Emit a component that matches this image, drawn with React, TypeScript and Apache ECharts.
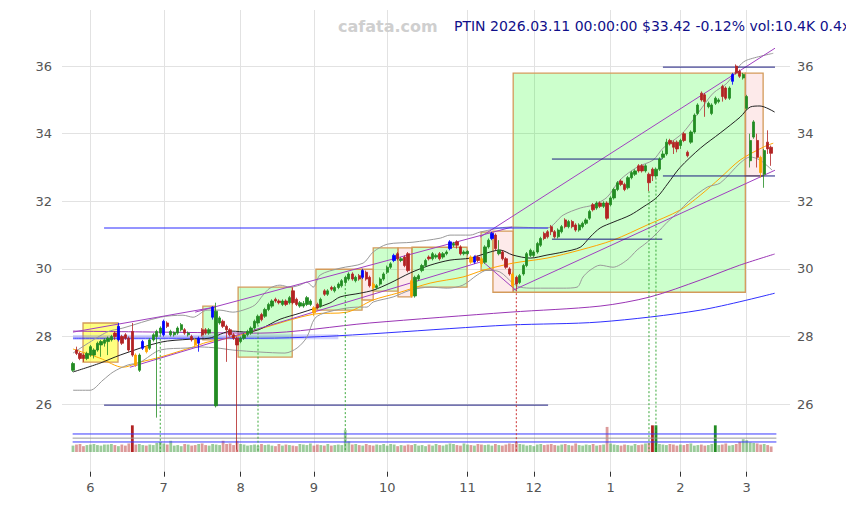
import React, { useEffect, useRef } from 'react';
import * as echarts from 'echarts';

// ---- candles (index 0 = first trading day shown) ----
const opens = [
  27.0, 27.6, 27.5, 27.45, 27.35, 27.45, 27.45, 27.6, 27.75, 27.8,
  27.85, 27.9, 28.1, 27.9, 28.0, 28.05, 27.95, 28.15, 27.45, 27.0,
  27.65, 27.7, 27.65, 27.9, 28.0, 28.1, 28.05, 28.4, 28.05, 28.05,
  28.1, 28.2, 28.2, 28.05, 28.0, 27.9, 27.8, 28.2, 28.2, 28.1,
  28.57, 25.95, 28.4, 28.45, 28.3, 28.2, 28.05, 27.95, 27.85, 27.95,
  28.05, 28.1, 28.25, 28.4, 28.65, 28.6, 28.8, 28.9, 29.1, 29.05,
  28.95, 29.05, 29.0, 29.35, 29.1, 28.9, 28.9, 28.95, 28.95, 28.85,
  28.95, 28.9, 29.35, 29.25, 29.45, 29.35, 29.45, 29.5, 29.6, 29.7,
  29.85, 29.65, 29.8, 29.75, 29.9, 29.75, 29.55, 29.45, 29.55, 29.7,
  29.9, 30.05, 30.25, 30.45, 30.25, 30.35, 30.45, 29.65, 29.2, 29.7,
  29.95, 30.1, 30.35, 30.3, 30.35, 30.45, 30.35, 30.45, 30.6, 30.7,
  30.8, 30.65, 30.45, 30.45, 30.35, 30.2, 30.35, 30.3, 30.2, 30.65,
  30.9, 31.0, 30.45, 30.5, 30.3, 30.0, 29.85, 29.75, 29.6, 29.85,
  30.1, 30.4, 30.4, 30.5, 30.7, 31.05, 31.1, 31.25, 31.1, 30.95,
  31.1, 31.45, 31.25, 31.4, 31.3, 31.15, 31.25, 31.35, 31.5, 31.9,
  31.8, 31.95, 31.85, 31.95, 31.9, 32.1, 32.35, 32.6, 32.5, 32.4,
  32.7, 32.8, 33.05, 33.05, 32.9, 32.8, 32.95, 32.75, 32.95, 33.3,
  33.4, 33.8, 33.75, 33.75, 33.65, 34.0, 33.45, 33.75, 34.05, 34.6,
  35.2, 35.15, 34.8, 34.6, 34.9, 34.95, 35.4, 35.35, 35.05, 35.55,
  36.0, 35.85, 35.65, 34.75, 33.2, 33.9, 33.8, 33.3, 32.8, 33.75,
  33.6,
];
const closes = [
  27.2, 27.5, 27.35, 27.35, 27.5, 27.7, 27.6, 27.8, 27.85, 27.9,
  27.95, 28.0, 28.0, 28.3, 27.8, 27.95, 27.6, 27.45, 27.15, 27.45,
  27.85, 27.55, 27.9, 28.05, 28.15, 28.25, 28.45, 28.3, 28.15, 28.12,
  28.25, 28.35, 28.1, 28.1, 27.9, 27.75, 27.95, 28.05, 28.1, 28.2,
  28.87, 28.75, 28.55, 28.3, 28.2, 28.05, 27.95, 27.75, 27.95, 28.05,
  28.15, 28.25, 28.45, 28.6, 28.5, 28.8, 28.95, 29.05, 29.05, 29.0,
  29.05, 28.95, 29.15, 29.0, 28.95, 29.0, 28.98, 29.15, 29.05, 28.7,
  28.85, 29.1, 29.25, 29.35, 29.4, 29.45, 29.55, 29.65, 29.75, 29.85,
  29.7, 29.75, 29.7, 29.95, 29.7, 29.5, 29.45, 29.5, 29.7, 29.85,
  30.05, 30.15, 30.4, 30.3, 30.3, 30.1, 29.95, 29.2, 29.75, 29.8,
  30.1, 30.25, 30.3, 30.45, 30.4, 30.3, 30.45, 30.5, 30.8, 30.75,
  30.7, 30.45, 30.5, 30.52, 30.2, 30.35, 30.25, 30.15, 30.65, 30.85,
  31.05, 30.6, 30.55, 30.3, 30.05, 29.85, 29.5, 29.55, 29.8, 30.1,
  30.45, 30.55, 30.5, 30.75, 30.9, 30.9, 30.95, 31.1, 30.95, 31.15,
  31.25, 31.25, 31.4, 31.25, 31.15, 31.3, 31.35, 31.45, 31.7, 31.75,
  31.95, 31.85, 31.95, 31.5, 32.1, 32.35, 32.55, 32.5, 32.35, 32.7,
  32.85, 32.9, 32.9, 32.9, 33.05, 32.55, 32.75, 32.95, 33.25, 33.4,
  33.75, 33.7, 33.6, 33.55, 33.8, 33.8, 33.35, 34.05, 34.55, 34.85,
  35.0, 34.95, 34.9, 34.85, 35.05, 35.0, 35.1, 35.05, 35.35, 35.75,
  35.8, 35.7, 35.75, 35.1, 33.8, 34.35, 33.3, 32.85, 33.5, 33.55,
  33.42,
];
const lows = [
  26.95, 27.45, 27.3, 27.25, 27.3, 27.4, 27.35, 27.55, 27.4, 27.7,
  27.45, 27.85, 27.9, 27.85, 27.75, 27.9, 27.55, 27.4, 27.1, 26.95,
  27.6, 27.5, 27.6, 27.85, 25.6, 28.05, 28.0, 28.25, 28.0, 28.0,
  28.05, 28.15, 28.05, 28.0, 27.85, 27.7, 27.55, 28.0, 28.05, 28.05,
  28.5, 25.9, 28.35, 28.25, 27.25, 28.0, 27.9, 24.65, 27.8, 27.9,
  28.0, 28.05, 28.2, 28.35, 28.45, 28.55, 28.75, 28.85, 29.0, 28.95,
  28.9, 28.9, 28.95, 28.95, 28.9, 28.85, 28.85, 28.9, 28.9, 28.6,
  28.8, 28.85, 29.2, 29.2, 29.35, 29.3, 29.4, 29.45, 29.55, 29.65,
  29.65, 29.6, 29.65, 29.7, 29.65, 29.45, 29.4, 29.4, 29.5, 29.65,
  29.85, 30.0, 30.2, 30.25, 30.2, 30.05, 29.9, 29.15, 29.15, 29.65,
  29.9, 30.05, 30.25, 30.25, 30.3, 30.25, 30.3, 30.4, 30.55, 30.65,
  30.6, 30.4, 30.4, 30.4, 30.15, 30.15, 30.2, 30.05, 30.15, 30.6,
  30.85, 30.55, 30.4, 30.25, 30.0, 29.8, 29.45, 29.4, 29.55, 29.8,
  30.05, 30.35, 30.35, 30.45, 30.65, 30.85, 30.9, 31.0, 30.9, 30.9,
  31.05, 31.2, 31.2, 31.2, 31.1, 31.1, 31.2, 31.3, 31.45, 31.7,
  31.75, 31.8, 31.8, 31.45, 31.85, 32.05, 32.3, 32.45, 32.3, 32.35,
  32.65, 32.75, 32.85, 32.85, 32.85, 32.3, 32.6, 32.7, 32.9, 33.25,
  33.35, 33.65, 33.4, 33.45, 33.55, 33.75, 33.3, 33.7, 34.0, 34.55,
  34.95, 34.5, 34.75, 34.55, 34.85, 34.9, 34.95, 35.0, 35.0, 35.45,
  35.75, 35.65, 35.6, 34.7, 33.0, 33.85, 33.0, 32.7, 32.4, 33.4,
  33.05,
];
const highs = [
  27.25, 27.7, 27.55, 27.5, 27.55, 27.75, 27.65, 27.85, 27.9, 27.95,
  28.0, 28.05, 28.15, 28.4, 28.05, 28.1, 28.0, 28.4, 27.5, 27.5,
  27.9, 27.75, 27.95, 28.1, 28.2, 28.3, 28.5, 28.45, 28.2, 28.15,
  28.3, 28.4, 28.25, 28.15, 28.05, 27.95, 28.0, 28.25, 28.25, 28.25,
  28.9, 29.0, 28.6, 28.5, 28.35, 28.25, 28.1, 28.0, 28.0, 28.1,
  28.2, 28.3, 28.5, 28.65, 28.7, 28.85, 29.0, 29.1, 29.15, 29.1,
  29.1, 29.1, 29.2, 29.45, 29.15, 29.05, 29.05, 29.2, 29.1, 28.9,
  29.0, 29.15, 29.4, 29.4, 29.5, 29.5, 29.6, 29.7, 29.8, 29.9,
  29.9, 29.8, 29.85, 30.0, 29.95, 29.8, 29.6, 29.55, 29.75, 29.9,
  30.1, 30.2, 30.45, 30.5, 30.35, 30.4, 30.5, 29.7, 29.8, 29.85,
  30.15, 30.3, 30.4, 30.5, 30.45, 30.5, 30.5, 30.55, 30.85, 30.8,
  30.85, 30.7, 30.55, 30.55, 30.4, 30.4, 30.4, 30.35, 30.7, 30.9,
  31.1, 31.05, 30.85, 30.55, 30.35, 30.05, 29.9, 29.8, 29.85, 30.15,
  30.5, 30.6, 30.55, 30.8, 30.95, 31.1, 31.15, 31.3, 31.15, 31.2,
  31.3, 31.5, 31.45, 31.45, 31.35, 31.35, 31.4, 31.5, 31.75, 31.95,
  32.0, 32.0, 32.0, 32.0, 32.15, 32.4, 32.6, 32.65, 32.55, 32.75,
  32.9, 32.95, 33.1, 33.1, 33.1, 32.85, 33.0, 33.0, 33.3, 33.5,
  33.85, 33.85, 33.8, 33.8, 33.85, 34.05, 33.5, 34.1, 34.6, 34.9,
  35.25, 35.2, 34.95, 34.9, 35.1, 35.05, 35.45, 35.4, 35.4, 35.8,
  36.05, 35.9, 35.8, 35.15, 34.0, 34.4, 34.0, 33.35, 33.55, 34.1,
  33.65,
];
// volume in thousands
const volumes = [
  12, 14, 15, 11, 13, 14, 15, 13, 12, 14,
  14, 15, 13, 11, 14, 12, 16, 50, 14, 15,
  13, 12, 14, 13, 17, 19, 16, 14, 21, 12,
  13, 11, 15, 14, 12, 13, 15, 16, 13, 12,
  15, 14, 13, 21, 15, 16, 13, 21, 15, 14,
  12, 13, 14, 12, 15, 13, 14, 12, 11, 15,
  12, 14, 13, 12, 11, 15, 14, 13, 16, 12,
  14, 13, 12, 15, 12, 13, 14, 13, 41, 20,
  14, 15, 13, 12, 15, 13, 12, 14, 13, 15,
  12, 15, 14, 11, 13, 12, 14, 13, 15, 12,
  13, 11, 14, 12, 15, 13, 12, 14, 16, 15,
  13, 12, 16, 14, 13, 12, 15, 14, 13, 14,
  12, 15, 13, 12, 14, 16, 15, 19, 15, 14,
  12, 13, 11, 14, 15, 13, 14, 15, 13, 12,
  14, 15, 13, 12, 16, 13, 12, 14, 13, 15,
  12, 13, 14, 47, 16, 14, 13, 12, 14, 13,
  12, 15, 13, 14, 16, 17, 50, 50, 15, 14,
  13, 15, 14, 12, 14, 13, 15, 16, 12, 13,
  14, 12, 13, 15, 50, 13, 14, 16, 12, 13,
  15, 19, 24, 22, 18, 17, 16, 14, 15, 13,
  10.4,
];
const volLevels = [18.8, 26, 33.8];

const blueIdx = [13, 20, 26, 36, 40, 83, 92, 108, 115, 120, 189];
const orangeIdx = [18, 21, 35, 69, 86, 97, 114, 117, 126, 197];
const greenMarkIdx = [25, 53, 78, 165, 167];
const redMarkIdx = [47, 127];

const monthStartIdx = [5, 26, 48, 69, 90, 113, 132, 154, 174, 193];
const monthLabels = ['6', '7', '8', '9', '10', '11', '12', '1', '2', '3'];
const priceTicks = [26, 28, 30, 32, 34, 36];

// indicator lines [index, price]
const ma20Pts = [[0,26.95],[7.7,27.21],[13.5,27.45],[25,27.83],[33.5,27.92],[39,27.95],[45.5,28.16],[50,28.13],[53.6,28.22],[59.3,28.51],[65,28.69],[73.6,28.99],[76.5,29.17],[82.2,29.28],[86,29.37],[90.8,29.58],[96.6,29.88],[102.3,30.11],[108,30.26],[113.8,30.32],[119.5,30.5],[122.3,30.56],[126,30.41],[131,30.32],[135.8,30.41],[140.4,30.5],[145.3,30.64],[148.1,30.94],[151,31.21],[154.7,31.38],[159.6,31.59],[163.3,31.83],[167.3,32.12],[170.5,32.54],[173.9,33.0],[179.7,33.57],[185.4,34.02],[191.1,34.49],[194,34.79],[196.8,34.82],[201,34.64]];
const bbUpperPts = [[0,27.51],[9.7,28.13],[14.3,28.25],[25,28.57],[31.5,28.63],[34.4,28.57],[38.4,28.78],[42.1,28.78],[45.8,28.72],[48.7,28.78],[52.1,28.93],[54.4,29.22],[56.4,29.43],[59.3,29.52],[62.2,29.46],[65,29.52],[67,29.61],[68.8,29.46],[70.8,29.82],[76.5,30.02],[83.1,30.17],[86,30.5],[90,30.73],[97.4,30.79],[105.2,30.91],[108,31.0],[113.8,31.0],[116.6,31.09],[125.2,31.24],[135.8,31.21],[140.4,31.59],[145.3,31.8],[149,31.89],[153,32.12],[156.7,32.63],[161.6,33.01],[166.2,33.22],[169,33.57],[173.9,33.95],[175.9,34.17],[179.7,34.7],[183.4,35.2],[187.4,35.5],[191.1,36.03],[193.1,36.18],[200.6,36.38]];
const bbLowerPts = [[0,26.41],[4.9,26.41],[8.6,26.71],[11.5,26.95],[15.5,27.15],[19.2,27.24],[25,27.6],[32.7,27.66],[36.4,27.69],[41.3,27.66],[45.8,27.6],[53.6,27.54],[60.7,27.51],[64.2,27.66],[67,27.98],[69.3,28.54],[72.8,28.72],[81.4,28.87],[84.2,28.87],[86,29.02],[91.7,29.17],[96.6,29.37],[102.3,29.46],[107.2,29.43],[111.7,29.52],[115.8,29.82],[118.6,29.96],[122.3,29.91],[126,29.58],[128.1,29.46],[131.8,29.43],[140.4,29.43],[144.4,29.46],[146.1,29.76],[148.1,29.96],[151,30.11],[154.7,30.05],[158.7,30.26],[161.6,30.56],[164.5,30.79],[167.3,31.06],[170.2,31.38],[173.1,31.65],[176.8,32.04],[181.7,32.42],[185.4,32.54],[191.1,33.13],[194,33.31],[196.8,33.22],[200.3,32.92]];
const ma50Pts = [[0,27.63],[7.7,27.36],[14.3,27.09],[19.2,27.24],[25,27.39],[34.4,27.69],[38.4,27.83],[45.8,27.98],[54.4,28.25],[68.8,28.66],[78.5,28.72],[86,29.08],[92.8,29.28],[102.3,29.58],[111.7,29.76],[117.5,29.96],[126,30.17],[135.8,30.32],[145.3,30.56],[154.7,30.85],[164.5,31.3],[173.9,31.74],[179.7,32.18],[185.4,32.69],[191.1,33.22],[197.7,33.6],[200.6,33.72]];
const ma100Pts = [[0,28.16],[25,28.13],[53.6,28.1],[85,28.4],[125.2,28.72],[151,28.9],[165.3,29.17],[179.7,29.67],[191,30.11],[201,30.44]];
const ma200Pts = [[0,27.95],[53.6,27.95],[125.2,28.34],[151,28.43],[179.7,28.78],[201,29.28]];
const bandPts = [[0,27.97],[76,27.99]];

const trendLines = [
  [[0, 28.13], [40.7, 28.87]],
  [[35, 28.72], [125.8, 31.24]],
  [[16.3, 27.09], [116.6, 30.2]],
  [[115.2, 30.41], [127.2, 29.34]],
  [[116.6, 30.94], [201.1, 36.53]],
  [[126.1, 29.37], [201.1, 32.92]],
];
const levels = [
  { from: 8.9, to: 136.1, price: 31.21, bright: true },
  { from: 8.9, to: 136.1, price: 25.97, bright: false },
  { from: 137.2, to: 168.8, price: 33.25, bright: false },
  { from: 137.2, to: 168.8, price: 30.88, bright: false },
  { from: 169, to: 201.1, price: 35.97, bright: false },
  { from: 169, to: 201.1, price: 32.75, bright: false },
];
// boxes: [fromIdx, toIdx, lowPrice, highPrice, kind]
const boxes: [number, number, number, number, string][] = [
  [2.87, 12.9, 27.24, 28.4, 'y'],
  [37.2, 40.7, 27.9, 28.9, 'g'],
  [47.3, 62.8, 27.39, 29.46, 'g'],
  [69.6, 82.8, 28.78, 29.99, 'g'],
  [82.8, 86, 29.08, 29.99, 'p'],
  [86, 93.1, 29.34, 30.62, 'g'],
  [93.1, 97.1, 29.17, 30.62, 'p'],
  [97.1, 112.9, 29.46, 30.64, 'g'],
  [116.9, 120.3, 29.96, 31.09, 'g'],
  [120.3, 126.1, 29.31, 31.12, 'p'],
  [126.1, 192.6, 29.31, 35.79, 'g'],
  [192.6, 197.7, 32.75, 35.79, 'p'],
];

const X_MIN = -3.15;
const X_MAX = 205.4;
const FONT = 'DejaVu Sans';
const UP = '#228b22';
const DOWN = '#b22222';

export default function App() {
  const ref = useRef<HTMLDivElement>(null);
  useEffect(() => {
    if (!ref.current) return;
    const chart = echarts.init(ref.current, undefined, { renderer: 'svg' });

    const candleData = closes.map((c, i) => {
      const o = opens[i];
      let col = c >= o ? UP : DOWN;
      if (blueIdx.includes(i)) col = '#0000ff';
      if (orangeIdx.includes(i)) col = '#ffa500';
      return {
        value: [i, o, c, lows[i], highs[i]],
        itemStyle: { color: col, color0: col, borderColor: col, borderColor0: col },
      };
    });
    const volData = volumes.map((v, i) => {
      const up = closes[i] >= opens[i];
      const strong = v >= 48;
      const color = up
        ? (strong ? UP : 'rgba(34,139,34,0.45)')
        : (strong ? DOWN : 'rgba(178,34,34,0.45)');
      return { value: [i, v], itemStyle: { color } };
    });

    const line = (pts: number[][], color: string, width: number, extra: any = {}) => ({
      type: 'line', xAxisIndex: 0, yAxisIndex: 0, data: pts, symbol: 'none', silent: true,
      lineStyle: { color, width, ...(extra.lineStyle || {}) }, z: extra.z ?? 3, smooth: extra.smooth ?? false,
    });

    const boxStyle = (k: string) => {
      if (k === 'y') return { color: 'rgba(255,255,0,0.5)', borderColor: '#d49a5a', borderWidth: 1.3 };
      if (k === 'p') return { color: 'rgba(240,80,80,0.12)', borderColor: '#d49a5a', borderWidth: 1.3 };
      return { color: 'rgba(0,255,0,0.2)', borderColor: '#d49a5a', borderWidth: 1.3 };
    };

    const series: any[] = [
      {
        type: 'line', xAxisIndex: 0, yAxisIndex: 0, data: [[0, 30]], symbol: 'none',
        lineStyle: { opacity: 0 }, silent: true, z: 1,
        markArea: {
          silent: true,
          data: boxes.map(([a, b, lo, hi, k]) => [
            { coord: [a, hi], itemStyle: boxStyle(k) },
            { coord: [b, lo] },
          ]),
        },
      },
      line(bandPts, 'rgba(110,110,255,0.3)', 5, { z: 2 }),
      line(ma200Pts, '#3030ff', 1, { smooth: 0.3 }),
      line(ma100Pts, '#9a35b5', 1, { smooth: 0.3 }),
      line(ma50Pts, '#ffa500', 1, { smooth: 0.3 }),
      line(bbUpperPts, '#999999', 1, { smooth: 0.3 }),
      line(bbLowerPts, '#999999', 1, { smooth: 0.3 }),
      line(ma20Pts, '#222222', 1, { smooth: 0.3 }),
      ...trendLines.map((t) => line(t, '#a040c0', 1)),
      ...levels.map((l) => line([[l.from, l.price], [l.to, l.price]], l.bright ? '#2b2bff' : '#1c1c80', 1)),
      ...greenMarkIdx.map((i) => line([[i, lows[i]], [i, 24.58]], '#3aa83a', 1, { lineStyle: { type: [2, 2] }, z: 4 })),
      ...redMarkIdx.map((i) => line([[i, lows[i]], [i, 24.58]], '#cc3333', 1, { lineStyle: { type: [2, 2] }, z: 4 })),
      {
        type: 'candlestick', xAxisIndex: 0, yAxisIndex: 0, data: candleData,
        encode: { x: 0, y: [1, 2, 3, 4] }, barWidth: 2.8, z: 5,
        itemStyle: { borderWidth: 0.8 },
      },
      {
        type: 'bar', xAxisIndex: 1, yAxisIndex: 2, data: volData, barWidth: 2.8, z: 2,
        encode: { x: 0, y: 1 },
      },
      ...volLevels.map((v, k) => ({
        type: 'line', xAxisIndex: 1, yAxisIndex: 2, data: [[-0.1, v], [201.5, v]], symbol: 'none', silent: true,
        lineStyle: { color: k === 1 ? '#9a9a9a' : '#3a3aff', width: 1 }, z: 3,
      })),
    ];

    const yLabel = {
      color: '#555', fontSize: 13, fontFamily: FONT,
      formatter: (v: number) => (priceTicks.includes(v) ? String(v) : ''),
      showMaxLabel: false, showMinLabel: false,
    };

    chart.setOption({
      animation: false,
      backgroundColor: '#ffffff',
      textStyle: { fontFamily: FONT },
      grid: [
        { left: 62, right: 64, top: 10, bottom: 33.3 },
        { left: 62, right: 64, top: 420, height: 32 },
      ],
      xAxis: [
        {
          type: 'value', gridIndex: 0, min: X_MIN, max: X_MAX,
          axisLine: { show: false },
          axisTick: { show: true, customValues: monthStartIdx, length: 5, lineStyle: { color: '#333' } },
          axisLabel: {
            customValues: monthStartIdx, color: '#555', fontSize: 13, fontFamily: FONT, margin: 9,
            formatter: (v: number) => monthLabels[monthStartIdx.indexOf(v)] ?? '',
          },
          splitLine: { show: true, lineStyle: { color: '#e2e2e2', width: 1 } },
        },
        { type: 'value', gridIndex: 1, min: X_MIN, max: X_MAX, show: false },
      ],
      yAxis: [
        {
          type: 'value', gridIndex: 0, min: 24, max: 37.66, interval: 2, position: 'left',
          axisLine: { show: false }, axisTick: { show: false },
          axisLabel: { ...yLabel, margin: 10 },
          splitLine: { show: true, showMinLine: false, showMaxLine: false, lineStyle: { color: '#e2e2e2', width: 1 } },
        },
        {
          type: 'value', gridIndex: 0, min: 24, max: 37.66, interval: 2, position: 'right',
          axisLine: { show: false }, axisTick: { show: false },
          axisLabel: { ...yLabel, margin: 7 },
          splitLine: { show: false },
        },
        { type: 'value', gridIndex: 1, min: 0, max: 60, show: false },
      ],
      graphic: [
        {
          type: 'text', x: 338, y: 26, z: 10,
          style: { text: 'cafata.com', fill: '#cfcfcf', font: `bold 16px "${FONT}"`, verticalAlign: 'middle', textVerticalAlign: 'middle' },
        },
        {
          type: 'text', x: 454, y: 26, z: 10,
          style: { text: 'PTIN 2026.03.11 00:00:00 $33.42 -0.12% vol:10.4K 0.4x', fill: '#10108a', font: `14px "${FONT}"`, verticalAlign: 'middle', textVerticalAlign: 'middle' },
        },
      ],
      series,
    });
    return () => chart.dispose();
  }, []);
  return <div ref={ref} style={{ width: 854, height: 505, margin: -8 }} />;
}
